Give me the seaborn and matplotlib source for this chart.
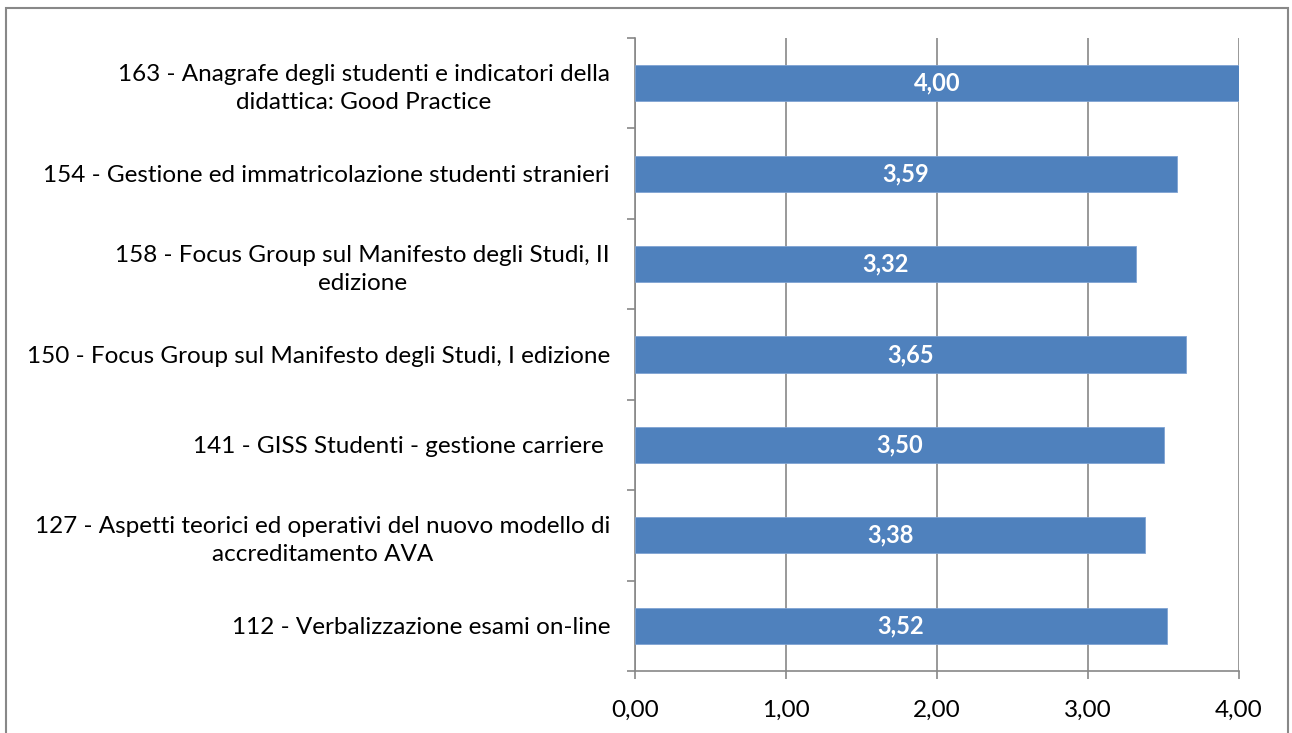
import matplotlib
matplotlib.use("Agg")
import matplotlib.pyplot as plt
import seaborn as sns
import pandas as pd
import numpy as np
from matplotlib.patches import Rectangle

categories = [
    "163 - Anagrafe degli studenti e indicatori della\ndidattica: Good Practice",
    "154 - Gestione ed immatricolazione studenti stranieri",
    "158 - Focus Group sul Manifesto degli Studi, II\nedizione",
    "150 - Focus Group sul Manifesto degli Studi, I edizione",
    "141 - GISS Studenti - gestione carriere ",
    "127 - Aspetti teorici ed operativi del nuovo modello di\naccreditamento AVA",
    "112 - Verbalizzazione esami on-line",
]
values = [4.00, 3.59, 3.32, 3.65, 3.50, 3.38, 3.52]
xticks = [0, 1, 2, 3, 4]
xticklabels = ["0,00", "1,00", "2,00", "3,00", "4,00"]

sns.set_theme(style="white")
plt.rcParams["font.family"] = ["Lato", "DejaVu Sans"]

df = pd.DataFrame({"cat": categories, "val": values})

fig = plt.figure(figsize=(12.92, 7.33), dpi=100)
ax = fig.add_axes([635/1292, 1-671/733, (1239-635)/1292, (671-38)/733])

sns.barplot(data=df, x="val", y="cat", orient="h", color="#4F81BD",
            saturation=1, width=0.4, ax=ax, edgecolor="#7FA3D3", linewidth=0.6, zorder=3)

ax.set_xlim(0, 4)
ax.set_ylim(len(categories) - 0.5, -0.5)
ax.set_xticks(xticks)
ax.set_xticklabels(xticklabels, fontsize=17.5, color="black")
ax.set_xlabel("")
ax.set_ylabel("")
ax.xaxis.grid(True, color="#888888", linewidth=1.2, zorder=0)
ax.yaxis.grid(False)
ax.set_axisbelow(True)

ax.set_yticks(range(len(categories)))
ax.set_yticklabels(categories, fontsize=17.5, color="black", multialignment="center",
                   linespacing=1.4)
ax.tick_params(axis="y", which="major", left=True, length=0, pad=18)
ax.set_yticks(np.arange(-0.5, len(categories), 1.0), minor=True)
ax.tick_params(axis="y", which="minor", left=True, length=6, width=1.2, color="#888888", direction="out")
ax.tick_params(axis="x", which="major", bottom=True, length=6, width=1.2, color="#888888", direction="out", pad=15)

for s in ["top", "right"]:
    ax.spines[s].set_visible(False)
for s in ["left", "bottom"]:
    ax.spines[s].set_color("#888888")
    ax.spines[s].set_linewidth(1.2)

for i, v in enumerate(values):
    ax.text(v / 2, i, f"{v:.2f}".replace(".", ","), ha="center", va="center",
            color="white", fontsize=17, fontweight="bold", zorder=4)

fig.patches.append(Rectangle((6/1292, -0.05), (1288-6)/1292, 1-8/733+0.05,
                             transform=fig.transFigure, fill=False,
                             edgecolor="#888888", linewidth=1.5))

fig.savefig("out.png", dpi=100, facecolor="white")
